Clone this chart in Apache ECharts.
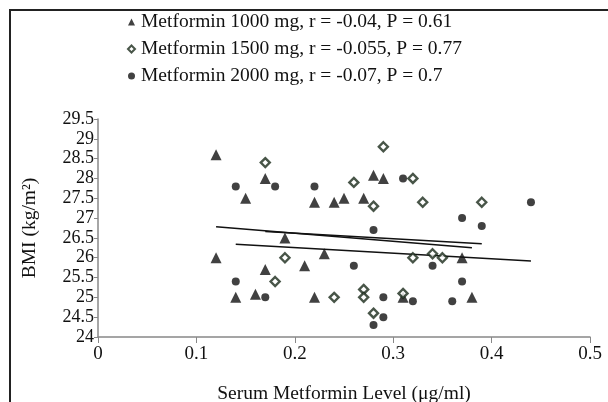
<!DOCTYPE html>
<html>
<head>
<meta charset="utf-8">
<script src="https://cdn.jsdelivr.net/npm/echarts@6/dist/echarts.min.js"></script>
<style>
  html, body { margin: 0; padding: 0; background: #fff; }
  #chart { width: 608px; height: 402px; }
</style>
</head>
<body>
<div id="chart"></div>
<script>
// values: [serum level, BMI]
var dose1000 = [
  [0.12, 28.6], [0.15, 27.5], [0.17, 28.0], [0.22, 27.4], [0.24, 27.4],
  [0.25, 27.5], [0.27, 27.5], [0.28, 28.08], [0.29, 28.0], [0.12, 26.0],
  [0.17, 25.7], [0.14, 25.0], [0.16, 25.08], [0.19, 26.5], [0.21, 25.8],
  [0.23, 26.1], [0.22, 25.0], [0.31, 25.0], [0.37, 26.0], [0.38, 25.0]
]
var dose1500 = [
  [0.17, 28.4], [0.26, 27.9], [0.28, 27.3], [0.29, 28.8], [0.32, 28.0],
  [0.33, 27.4], [0.39, 27.4], [0.18, 25.4], [0.19, 26.0], [0.24, 25.0],
  [0.27, 25.2], [0.27, 25.0], [0.28, 24.6], [0.31, 25.1], [0.32, 26.0],
  [0.34, 26.1], [0.35, 26.0]
]
var dose2000 = [
  [0.14, 27.8], [0.18, 27.8], [0.22, 27.8], [0.31, 28.0], [0.44, 27.4],
  [0.37, 27.0], [0.39, 26.8], [0.14, 25.4], [0.17, 25.0], [0.26, 25.8],
  [0.28, 26.7], [0.29, 25.0], [0.29, 24.5], [0.28, 24.3], [0.32, 24.9],
  [0.36, 24.9], [0.34, 25.8], [0.37, 25.4]
]
// trend line end points
var trend1000 = [[0.12, 26.78], [0.38, 26.25]]
var trend1500 = [[0.17, 26.66], [0.39, 26.35]]
var trend2000 = [[0.14, 26.34], [0.44, 25.92]]

var seriesNames = [
  'Metformin 1000 mg, r = -0.04, P = 0.61',
  'Metformin 1500 mg, r = -0.055, P = 0.77',
  'Metformin 2000 mg, r = -0.07, P = 0.7'
]
var xTicks = { min: 0, max: 0.5, interval: 0.1 }
var yTicks = { min: 24, max: 29.5, interval: 0.5 }

var font = 'Liberation Serif'
var fs = 19.5
var chart = echarts.init(document.getElementById('chart'))

function trendLine(data) {
  return {
    type: 'line',
    data: data,
    symbol: 'none',
    silent: true,
    lineStyle: { color: '#111', width: 1.5 },
    z: 1
  }
}

chart.setOption({
  animation: false,
  textStyle: { fontFamily: font },
  graphic: [{
    type: 'polyline',
    shape: { points: [[10, 402], [10, 10], [608, 10]] },
    style: { stroke: '#222', lineWidth: 2, fill: null }
  }],
  legend: {
    orient: 'vertical',
    left: 122,
    top: 7,
    itemGap: 7,
    itemWidth: 7,
    itemHeight: 7,
    data: [
      { name: seriesNames[0], icon: 'triangle' },
      { name: seriesNames[1], icon: 'diamond' },
      { name: seriesNames[2], icon: 'circle' }
    ],
    textStyle: { fontFamily: font, fontSize: fs, color: '#111', lineHeight: 20, padding: [0, 0, 0, 1] }
  },
  grid: { left: 98, right: 18, top: 119, bottom: 65, outerBoundsMode: 'none' },
  xAxis: {
    type: 'value',
    min: xTicks.min,
    max: xTicks.max,
    interval: xTicks.interval,
    name: 'Serum Metformin Level (μg/ml)',
    nameLocation: 'middle',
    nameGap: 47,
    nameTextStyle: { fontFamily: font, fontSize: fs, color: '#111' },
    axisLine: { lineStyle: { color: '#888', width: 1.5 } },
    axisTick: { show: true, length: 6, lineStyle: { color: '#888' } },
    axisLabel: { fontFamily: font, fontSize: 19, color: '#111', margin: 8 },
    splitLine: { show: false }
  },
  yAxis: {
    type: 'value',
    min: yTicks.min,
    max: yTicks.max,
    interval: yTicks.interval,
    name: 'BMI (kg/m²)',
    nameLocation: 'middle',
    nameGap: 58,
    nameTextStyle: { fontFamily: font, fontSize: fs, color: '#111' },
    axisLine: { show: true, lineStyle: { color: '#888', width: 1.5 } },
    axisTick: { show: true, length: 4, lineStyle: { color: '#888' } },
    axisLabel: { fontFamily: font, fontSize: 18, color: '#111', margin: 4 },
    splitLine: { show: false }
  },
  series: [
    {
      name: seriesNames[0],
      type: 'scatter',
      symbol: 'triangle',
      symbolSize: 11,
      itemStyle: { color: '#111' },
      data: dose1000,
      z: 3
    },
    {
      name: seriesNames[1],
      type: 'scatter',
      symbol: 'diamond',
      symbolSize: 9,
      itemStyle: { color: '#fff', borderColor: '#1a2a1a', borderWidth: 2.4 },
      data: dose1500,
      z: 4
    },
    {
      name: seriesNames[2],
      type: 'scatter',
      symbol: 'circle',
      symbolSize: 8,
      itemStyle: { color: '#111' },
      data: dose2000,
      z: 3
    },
    trendLine(trend1000),
    trendLine(trend1500),
    trendLine(trend2000)
  ]
})
</script>
</body>
</html>
